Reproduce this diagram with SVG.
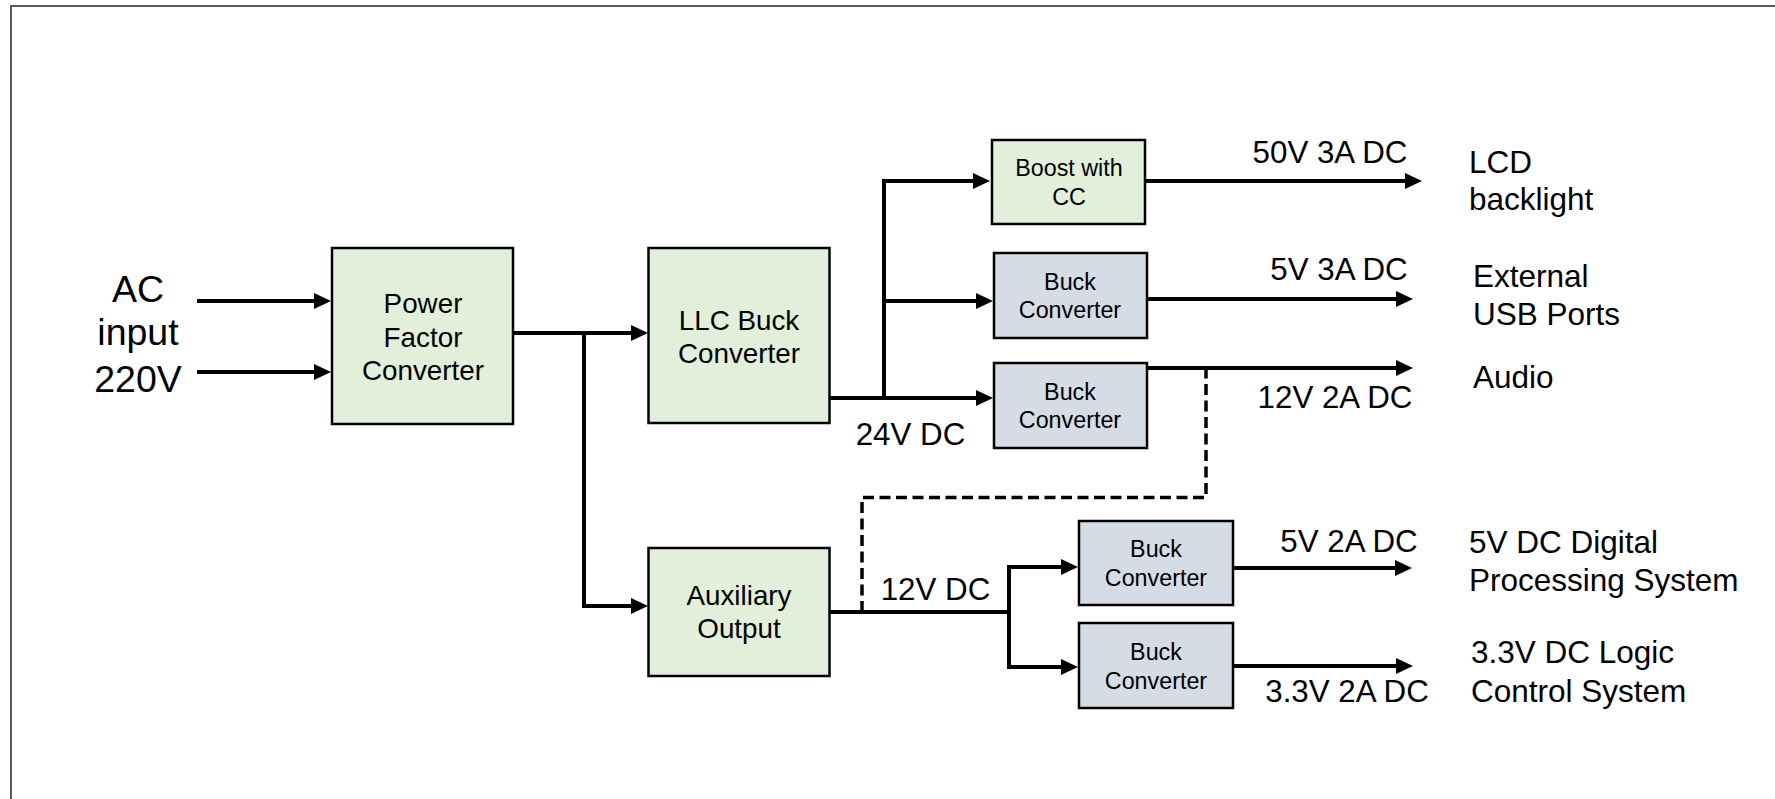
<svg xmlns="http://www.w3.org/2000/svg" width="1775" height="799" viewBox="0 0 1775 799">
<style>
.g{fill:#E2EFDA;stroke:#000;stroke-width:2.5}
.b{fill:#D6DCE5;stroke:#000;stroke-width:2.5}
.t{font-family:"Liberation Sans",Arial,sans-serif;fill:#000}
.big{font-size:27.8px;text-anchor:middle}
.sm{font-size:23.3px;text-anchor:middle}
.lab{font-size:31.3px;text-anchor:middle}
.out{font-size:31.5px;text-anchor:start}
.ac{font-size:37.5px;text-anchor:middle}
.w{fill:none;stroke:#000;stroke-width:4}
.d{fill:none;stroke:#000;stroke-width:3.5;stroke-dasharray:11 5.5}
</style>
<defs>
<marker id="ah" markerUnits="userSpaceOnUse" markerWidth="18" markerHeight="16" refX="7" refY="8" orient="auto">
<path d="M0,0 L17,8 L0,16 Z" fill="#000"/>
</marker>
</defs>
<rect width="1775" height="799" fill="#fff"/>
<path d="M11,799 V6 H1775" fill="none" stroke="#5a5a5a" stroke-width="2"/>

<g id="connectors">
<path class="w" d="M197,301 H321" marker-end="url(#ah)"/>
<path class="w" d="M197,372 H321" marker-end="url(#ah)"/>
<path class="w" d="M514,333 H638" marker-end="url(#ah)"/>
<path class="w" d="M584,333 V606 H638" marker-end="url(#ah)"/>
<path class="w" d="M830,398 H983" marker-end="url(#ah)"/>
<path class="w" d="M884,398 V181 H980" marker-end="url(#ah)"/>
<path class="w" d="M884,301 H983" marker-end="url(#ah)"/>
<path class="w" d="M1145,181 H1412" marker-end="url(#ah)"/>
<path class="w" d="M1147,299 H1403" marker-end="url(#ah)"/>
<path class="w" d="M1147,368 H1403" marker-end="url(#ah)"/>
<path class="w" d="M830,612 H1009"/>
<path class="w" d="M1009,567 V667"/>
<path class="w" d="M1007,567 H1068" marker-end="url(#ah)"/>
<path class="w" d="M1007,667 H1068" marker-end="url(#ah)"/>
<path class="w" d="M1233,568 H1402" marker-end="url(#ah)"/>
<path class="w" d="M1233,666 H1403" marker-end="url(#ah)"/>
<path class="d" d="M862,612 V497.5 H1206 V370"/>
</g>

<g id="ac-input">
<text class="t ac" x="138" y="302">AC</text>
<text class="t ac" x="138" y="345">input</text>
<text class="t ac" x="138" y="392">220V</text>
</g>

<g id="pfc">
<rect class="g" x="332" y="248" width="181" height="176"/>
<text class="t big" x="423" y="313">Power</text>
<text class="t big" x="423" y="347">Factor</text>
<text class="t big" x="423" y="380">Converter</text>
</g>

<g id="llc">
<rect class="g" x="648.5" y="248" width="181" height="175"/>
<text class="t big" x="739" y="330">LLC Buck</text>
<text class="t big" x="739" y="363">Converter</text>
</g>

<g id="aux">
<rect class="g" x="648.5" y="548" width="181" height="128"/>
<text class="t big" x="739" y="605">Auxiliary</text>
<text class="t big" x="739" y="638">Output</text>
</g>

<g id="boost">
<rect class="g" x="992" y="140" width="153" height="84"/>
<text class="t sm" x="1069" y="176">Boost with</text>
<text class="t sm" x="1069" y="205">CC</text>
</g>

<g id="buck1">
<rect class="b" x="994" y="253" width="153" height="85"/>
<text class="t sm" x="1070" y="290">Buck</text>
<text class="t sm" x="1070" y="318">Converter</text>
</g>

<g id="buck2">
<rect class="b" x="994" y="363" width="153" height="85"/>
<text class="t sm" x="1070" y="400">Buck</text>
<text class="t sm" x="1070" y="428">Converter</text>
</g>

<g id="buck3">
<rect class="b" x="1079" y="521" width="154" height="84"/>
<text class="t sm" x="1156" y="557">Buck</text>
<text class="t sm" x="1156" y="586">Converter</text>
</g>

<g id="buck4">
<rect class="b" x="1079" y="623" width="154" height="85"/>
<text class="t sm" x="1156" y="660">Buck</text>
<text class="t sm" x="1156" y="689">Converter</text>
</g>

<g id="labels">
<text class="t lab" x="910.5" y="445">24V DC</text>
<text class="t lab" x="935.5" y="600">12V DC</text>
<text class="t lab" x="1330" y="163">50V 3A DC</text>
<text class="t lab" x="1339" y="280">5V 3A DC</text>
<text class="t lab" x="1335" y="408">12V 2A DC</text>
<text class="t lab" x="1349" y="552">5V 2A DC</text>
<text class="t lab" x="1347" y="702">3.3V 2A DC</text>
</g>

<g id="loads">
<text class="t out" x="1469" y="173">LCD</text>
<text class="t out" x="1469" y="210">backlight</text>
<text class="t out" x="1473" y="287">External</text>
<text class="t out" x="1473" y="325">USB Ports</text>
<text class="t out" x="1473" y="388">Audio</text>
<text class="t out" x="1469" y="553">5V DC Digital</text>
<text class="t out" x="1469" y="591">Processing System</text>
<text class="t out" x="1471" y="663">3.3V DC Logic</text>
<text class="t out" x="1471" y="702">Control System</text>
</g>
</svg>
